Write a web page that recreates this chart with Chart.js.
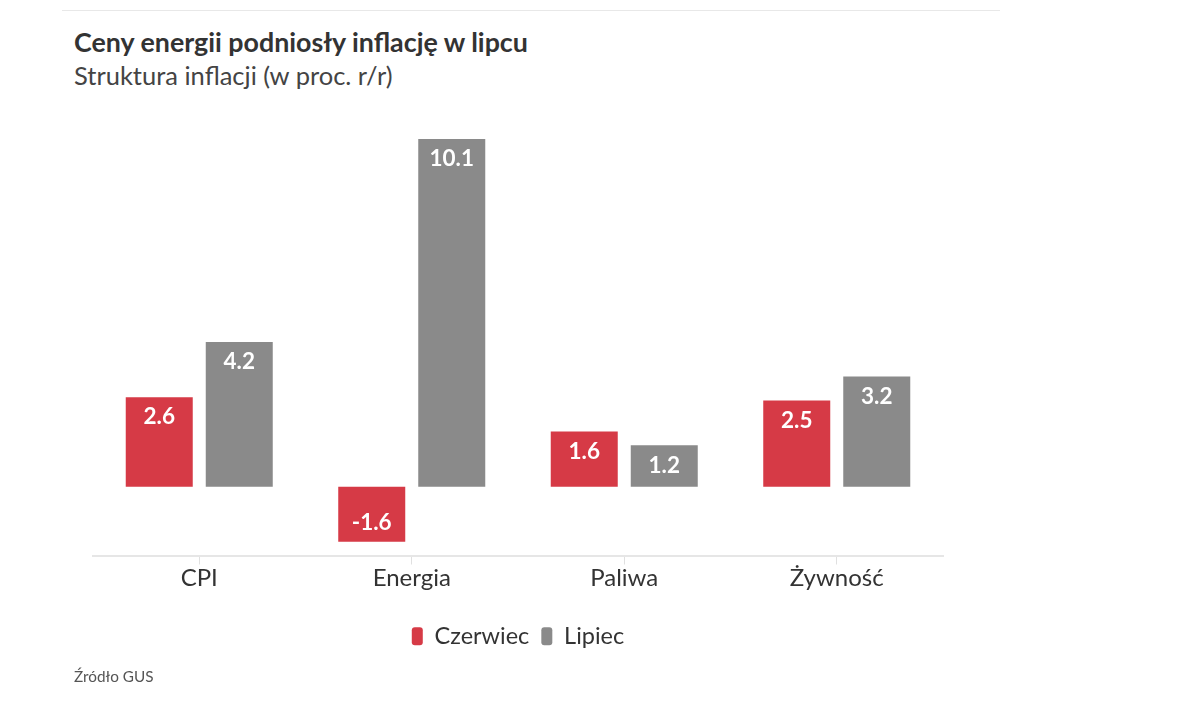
<!DOCTYPE html>
<html>
<head>
<meta charset="utf-8">
<script src="https://cdn.jsdelivr.net/npm/chart.js@4"></script>
<style>
  body { margin: 0; background: #fff; font-family: Lato, "Noto Sans", sans-serif; color: #333; }
  .topline { position: absolute; left: 62px; top: 10px; width: 938px; height: 1px; background: #e8e8e8; }
  h1 { position: absolute; left: 74px; top: 25px; margin: 0; font-size: 26.8px; line-height: 34px; font-weight: 700; color: #333; }
  .sub { position: absolute; left: 74px; top: 59px; font-size: 25.5px; line-height: 32px; color: #444; }
  .wrap { position: absolute; left: 0; top: 95px; width: 1000px; height: 575px; }
  .src { position: absolute; left: 74px; top: 667px; font-size: 15.3px; color: #555; }
</style>
</head>
<body>
<div class="topline"></div>
<h1>Ceny energii podniosły inflację w lipcu</h1>
<div class="sub">Struktura inflacji (w proc. r/r)</div>
<div class="wrap"><canvas id="chart"></canvas></div>
<div class="src">Źródło GUS</div>
<script>
  // --- DANE ---
  const categories = ['CPI', 'Energia', 'Paliwa', 'Żywność'];
  const czerwiec = [2.6, -1.6, 1.6, 2.5];
  const lipiec = [4.2, 10.1, 1.2, 3.2];

  const RED = '#d63a46';
  const GRAY = '#8a8a8a';
  const FONT = 'Lato, "Noto Sans", sans-serif';

  // etykiety wartosci w srodku slupka, przy jego koncu
  const valueLabels = {
    id: 'valueLabels',
    afterDatasetsDraw(chart) {
      const ctx = chart.ctx;
      ctx.save();
      ctx.fillStyle = '#fff';
      ctx.font = 'bold 22.5px ' + FONT;
      ctx.textAlign = 'center';
      ctx.textBaseline = 'middle';
      chart.data.datasets.forEach((ds, i) => {
        chart.getDatasetMeta(i).data.forEach((bar, j) => {
          const v = ds.data[j];
          const y = v >= 0 ? bar.y + 20 : bar.y - 19;
          ctx.fillText(v.toFixed(1), bar.x, y);
        });
      });
      ctx.restore();
    }
  };

  new Chart(document.getElementById('chart'), {
    type: 'bar',
    data: {
      labels: categories,
      datasets: [
        { label: 'Czerwiec', data: czerwiec, backgroundColor: RED },
        { label: 'Lipiec', data: lipiec, backgroundColor: GRAY }
      ]
    },
    options: {
      responsive: true, maintainAspectRatio: false, animation: false,
      categoryPercentage: 0.753, barPercentage: 0.8375,
      layout: { padding: { left: 93, right: 57, top: 13, bottom: 12 } },
      scales: {
        x: {
          grid: { offset: false, drawOnChartArea: false, color: '#e0e0e0', tickLength: 9, lineWidth: 1 },
          border: { color: '#e6e6e6', width: 2 },
          ticks: { color: '#333', font: { size: 24, family: FONT }, padding: -1 },
          afterFit: (s) => { s.height = 57; }
        },
        y: { display: false, min: -2, max: 11 }
      },
      plugins: {
        legend: {
          position: 'bottom',
          labels: {
            color: '#333', font: { size: 23.5, family: FONT },
            boxWidth: 11, boxHeight: 18, useBorderRadius: true, borderRadius: 3, padding: 12
          }
        },
        tooltip: { enabled: false }
      }
    },
    plugins: [valueLabels]
  });
</script>
</body>
</html>
